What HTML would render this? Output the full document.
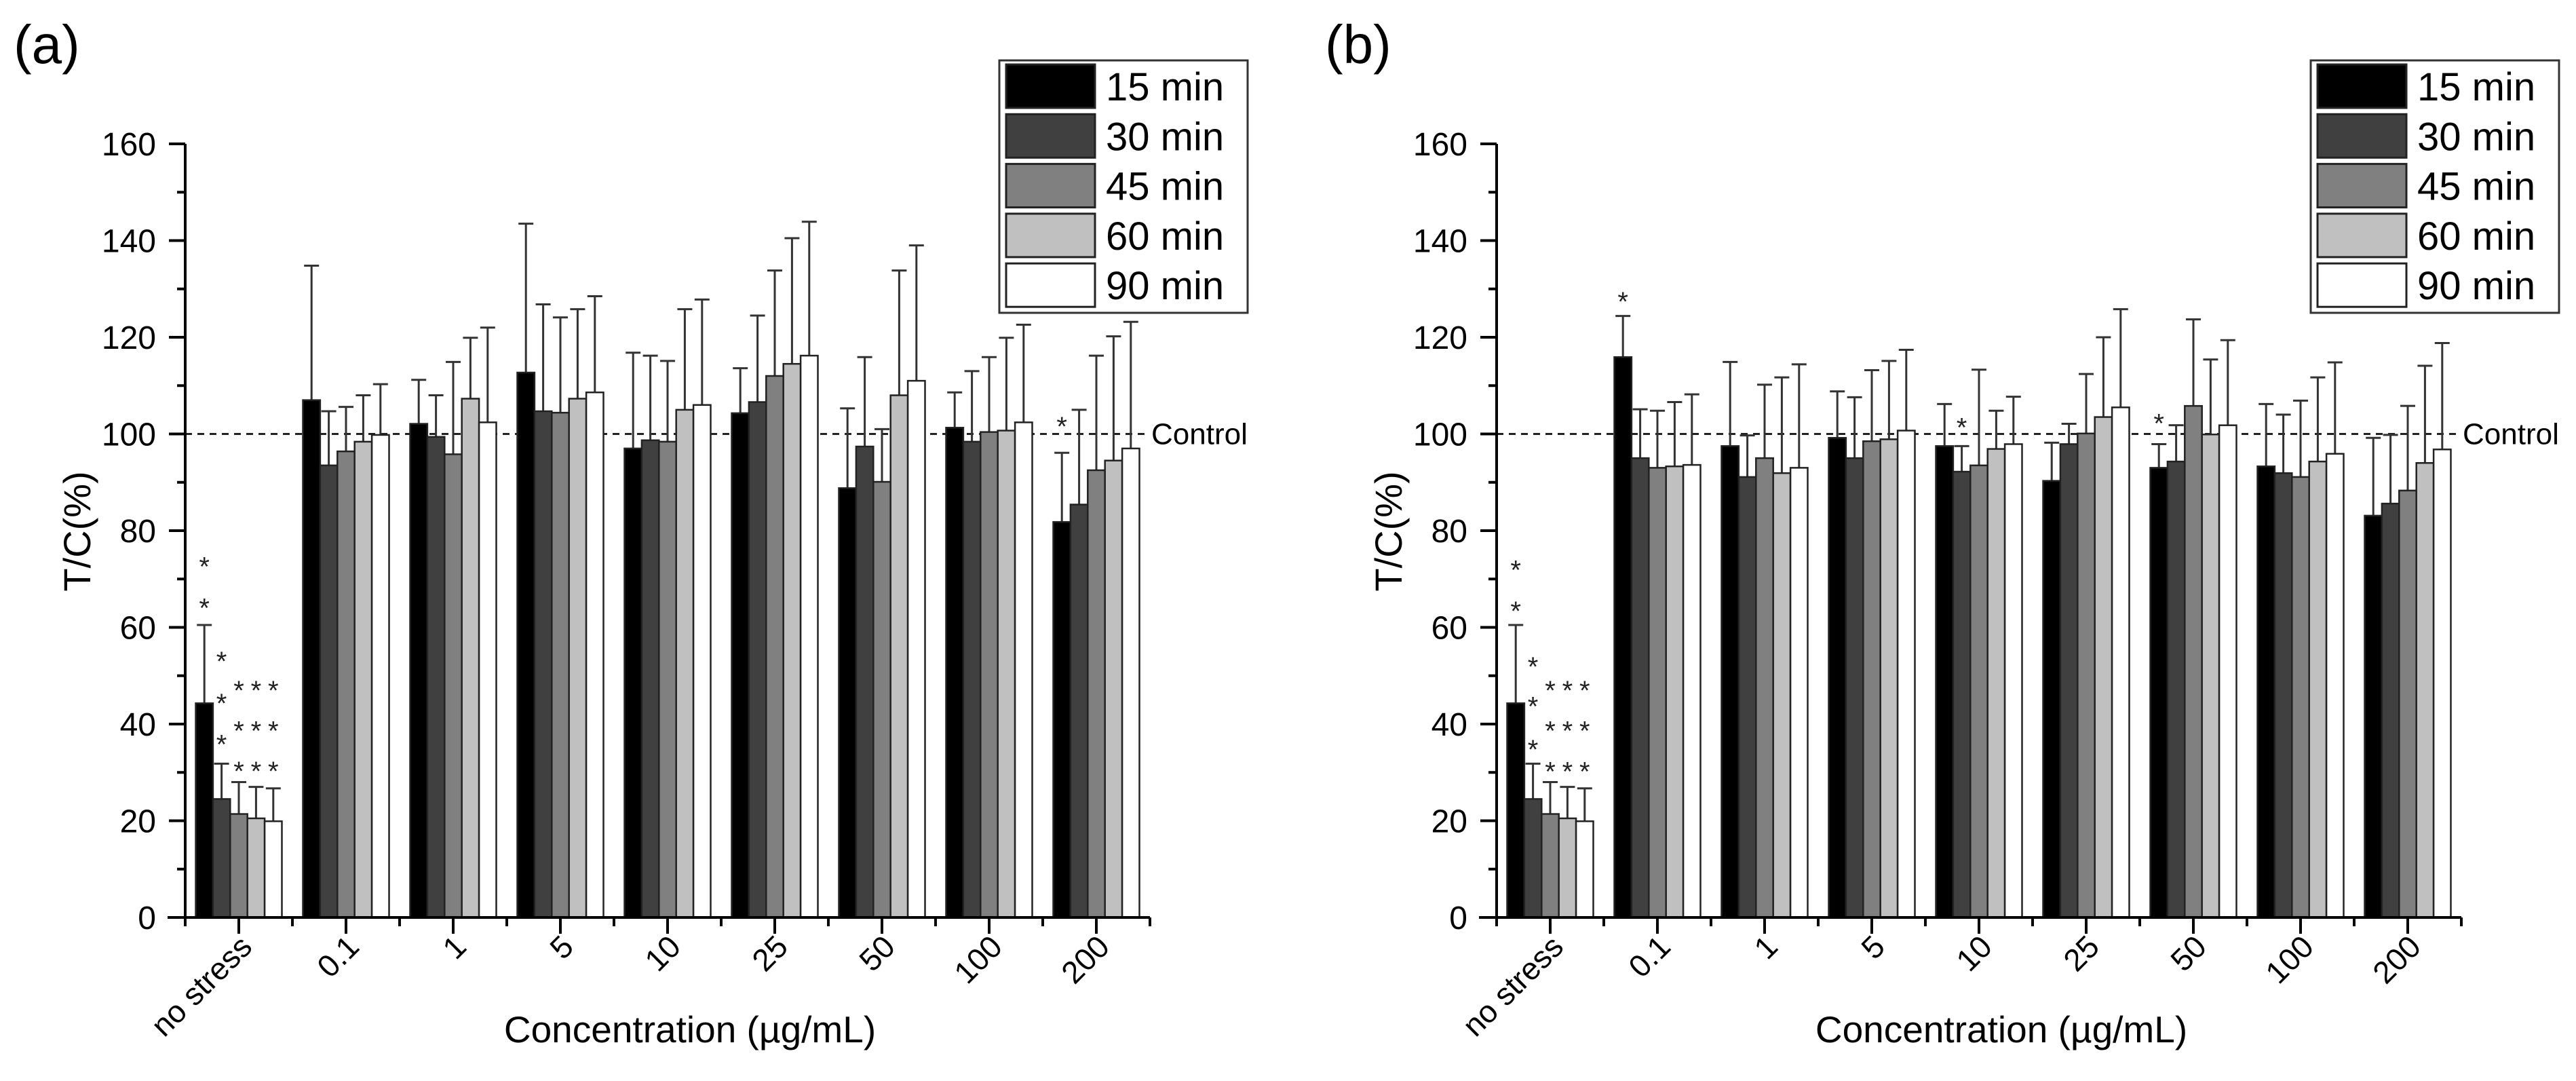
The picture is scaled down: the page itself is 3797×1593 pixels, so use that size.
<!DOCTYPE html>
<html><head><meta charset="utf-8"><style>
html,body{margin:0;padding:0;background:#fff;}
svg{display:block;font-family:"Liberation Sans",Arial,sans-serif;}
</style></head><body>
<svg id="fig" width="3797" height="1593" viewBox="0 0 3797 1593" xmlns="http://www.w3.org/2000/svg"></svg>
<script>
const categories = ["no stress","0.1","1","5","10","25","50","100","200"];
const seriesNames = ["15 min","30 min","45 min","60 min","90 min"];
const yTicks = [0,20,40,60,80,100,120,140,160];
// panel (a) means per series (across categories)
const a15 = [44.3,107,102.1,112.7,97,104.3,88.8,101.3,81.8];
const a30 = [24.5,93.5,99.4,104.7,98.7,106.6,97.4,98.4,85.4];
const a45 = [21.4,96.4,95.8,104.4,98.4,112,90.1,100.4,92.5];
const a60 = [20.5,98.4,107.3,107.3,105,114.5,108,100.7,94.5];
const a90 = [19.9,99.8,102.4,108.6,106,116.2,111,102.4,97];
// panel (a) error bar tops
const a15e = [60.5,134.8,111.2,143.5,116.8,113.6,105.3,108.6,96.1];
const a30e = [31.8,104.7,108,126.8,116.2,124.5,115.9,113,105];
const a45e = [28,105.6,114.9,124.1,115.1,133.8,101,115.9,116.2];
const a60e = [27,108,119.9,125.8,125.8,140.5,133.8,119.9,120.2];
const a90e = [26.7,110.3,122,128.5,127.8,143.9,139,122.6,123.2];
// panel (b)
const b15 = [44.3,115.9,97.5,99.2,97.5,90.3,93,93.3,83.1];
const b30 = [24.5,95,91.1,95,92.2,97.9,94.3,91.9,85.6];
const b45 = [21.4,93,95,98.5,93.5,100.1,105.8,91.1,88.3];
const b60 = [20.5,93.3,91.9,98.9,96.9,103.5,99.9,94.3,94];
const b90 = [19.9,93.6,93,100.7,97.9,105.5,101.8,95.9,96.8];
const b15e = [60.5,124.4,114.9,108.8,106.2,98.2,97.9,106.2,99.2];
const b30e = [31.8,105.1,99.7,107.6,97.5,102.1,101.8,104,99.8];
const b45e = [28,104.8,110.2,113.2,113.3,112.4,123.7,106.9,105.8];
const b60e = [27,106.6,111.7,115.1,104.8,120,115.4,111.7,114.1];
const b90e = [26.7,108.2,114.4,117.4,107.7,125.8,119.4,114.8,118.8];
// significance stars: [category index, series index, value]
const starsA = [[0,0,73.9],[0,0,65.3],[0,1,54.3],[0,1,45.6],[0,1,37.1],
  [0,2,48.3],[0,2,39.9],[0,2,31.6],[0,3,48.3],[0,3,39.9],[0,3,31.6],[0,4,48.3],[0,4,39.9],[0,4,31.6],[8,0,102.9]];
const starsB = [[0,0,73.2],[0,0,64.7],[0,1,53.2],[0,1,45],[0,1,36.1],
  [0,2,48.3],[0,2,39.9],[0,2,31.5],[0,3,48.3],[0,3,39.9],[0,3,31.5],[0,4,48.3],[0,4,39.9],[0,4,31.5],
  [1,0,128.7],[4,1,102.7],[6,0,103.5]];
const controlValue = 100;

const fills = ["#000000","#404040","#808080","#c0c0c0","#ffffff"];
const NS = "http://www.w3.org/2000/svg";
const svg = document.getElementById('fig');
function mk(tag, attrs, parent){const e=document.createElementNS(NS,tag);for(const k in attrs)e.setAttribute(k,attrs[k]);(parent||svg).appendChild(e);return e;}

function drawPanel(dx, label, means, errs, stars){
  const g = mk('g',{transform:'translate('+dx+',0)'});
  
  
  const X0=273, Y0=1352, PXU=7.125, GW=158;
  const yS = v => Y0 - v*PXU;
  const cx = i => X0 + GW*(i+0.5);
  const bw = 25.4;
  const bx = (i,s) => cx(i) - 63.5 + s*bw;
  const t = mk('text',{x:20,y:93,'font-size':80,fill:'#000'},g); t.textContent=label;
  
  
  // control line
  const cl = mk('line',{x1:X0,x2:X0+GW*categories.length,y1:yS(controlValue),y2:yS(controlValue),stroke:'#222','stroke-width':3,'stroke-dasharray':'10 8'},g);
  
  
  const ct = mk('text',{x:X0+GW*categories.length+2,y:yS(controlValue)+15,'font-size':44,fill:'#000'},g); ct.textContent='Control';
  
  
  // bars
  for(let s=0;s<5;s++){
    for(let i=0;i<categories.length;i++){
      const v=means[s][i], e=errs[s][i], x=bx(i,s);
      const ex=x+bw/2;
      const eb = mk('path',{d:'M'+ex+' '+yS(v)+'V'+yS(e)+'M'+(ex-11)+' '+yS(e)+'H'+(ex+11),stroke:'#333','stroke-width':3,fill:'none'},g);
      
      
      const r = mk('rect',{x:x,y:yS(v),width:bw,height:yS(0)-yS(v),fill:fills[s],stroke:'#222','stroke-width':2.5},g);
      
      
    }
  }
  // stars
  stars.forEach(st=>{
    const tx = mk('text',{x:bx(st[0],st[1])+bw/2,y:yS(st[2])+23,'font-size':40,'text-anchor':'middle',fill:'#222'},g);
    tx.textContent='*';
    
    
  });
  // axes
  const ya = mk('line',{x1:X0,x2:X0,y1:yS(160),y2:Y0+1.5,stroke:'#000','stroke-width':4},g);
  
  
  const xa = mk('line',{x1:X0-26,x2:X0+GW*categories.length,y1:Y0,y2:Y0,stroke:'#000','stroke-width':4},g);
  
  
  yTicks.forEach(v=>{
    mk('line',{x1:X0-24,x2:X0,y1:yS(v),y2:yS(v),stroke:'#000','stroke-width':4},g);
    if(v<160) mk('line',{x1:X0-12,x2:X0,y1:yS(v+10),y2:yS(v+10),stroke:'#000','stroke-width':4},g);
    const tl = mk('text',{x:230,y:yS(v)+17,'font-size':48,'text-anchor':'end',fill:'#000'},g); tl.textContent=v;
    
    
  });
  for(let i=0;i<=categories.length;i++){
    mk('line',{x1:X0+GW*i,x2:X0+GW*i,y1:Y0,y2:Y0+13,stroke:'#000','stroke-width':4},g);
  }
  categories.forEach((c,i)=>{
    mk('line',{x1:cx(i),x2:cx(i),y1:Y0,y2:Y0+24,stroke:'#000','stroke-width':4},g);
    const xl = mk('text',{x:cx(i)+22,y:1398,'font-size':46,'text-anchor':'end',fill:'#000',transform:'rotate(-45 '+(cx(i)+22)+' 1398)'},g);
    xl.textContent=c;
    
    
  });
  const yt = mk('text',{x:0,y:0,'font-size':56,'text-anchor':'middle',fill:'#000',transform:'translate(133 783) rotate(-90)'},g);
  yt.textContent='T/C(%)';
  
  
  const xt = mk('text',{x:1017,y:1536,'font-size':55,'text-anchor':'middle',fill:'#000'},g);
  xt.textContent='Concentration (µg/mL)';
  
  
  // legend
  const lg = mk('g',{},g);
  
  
  mk('rect',{x:1473,y:89,width:366,height:372,fill:'#fff',stroke:'#333','stroke-width':3},lg);
  seriesNames.forEach((n,s)=>{
    const y=95+s*73.3;
    const sw = mk('rect',{x:1483,y:y,width:131,height:64,fill:fills[s],stroke:'#222','stroke-width':3},lg);
    
    
    const lt = mk('text',{x:1630,y:y+53,'font-size':58,fill:'#000'},lg); lt.textContent=n;
    
    
  });
}
drawPanel(0,'(a)',[a15,a30,a45,a60,a90],[a15e,a30e,a45e,a60e,a90e],starsA);
drawPanel(1933,'(b)',[b15,b30,b45,b60,b90],[b15e,b30e,b45e,b60e,b90e],starsB);
</script>
</body></html>
